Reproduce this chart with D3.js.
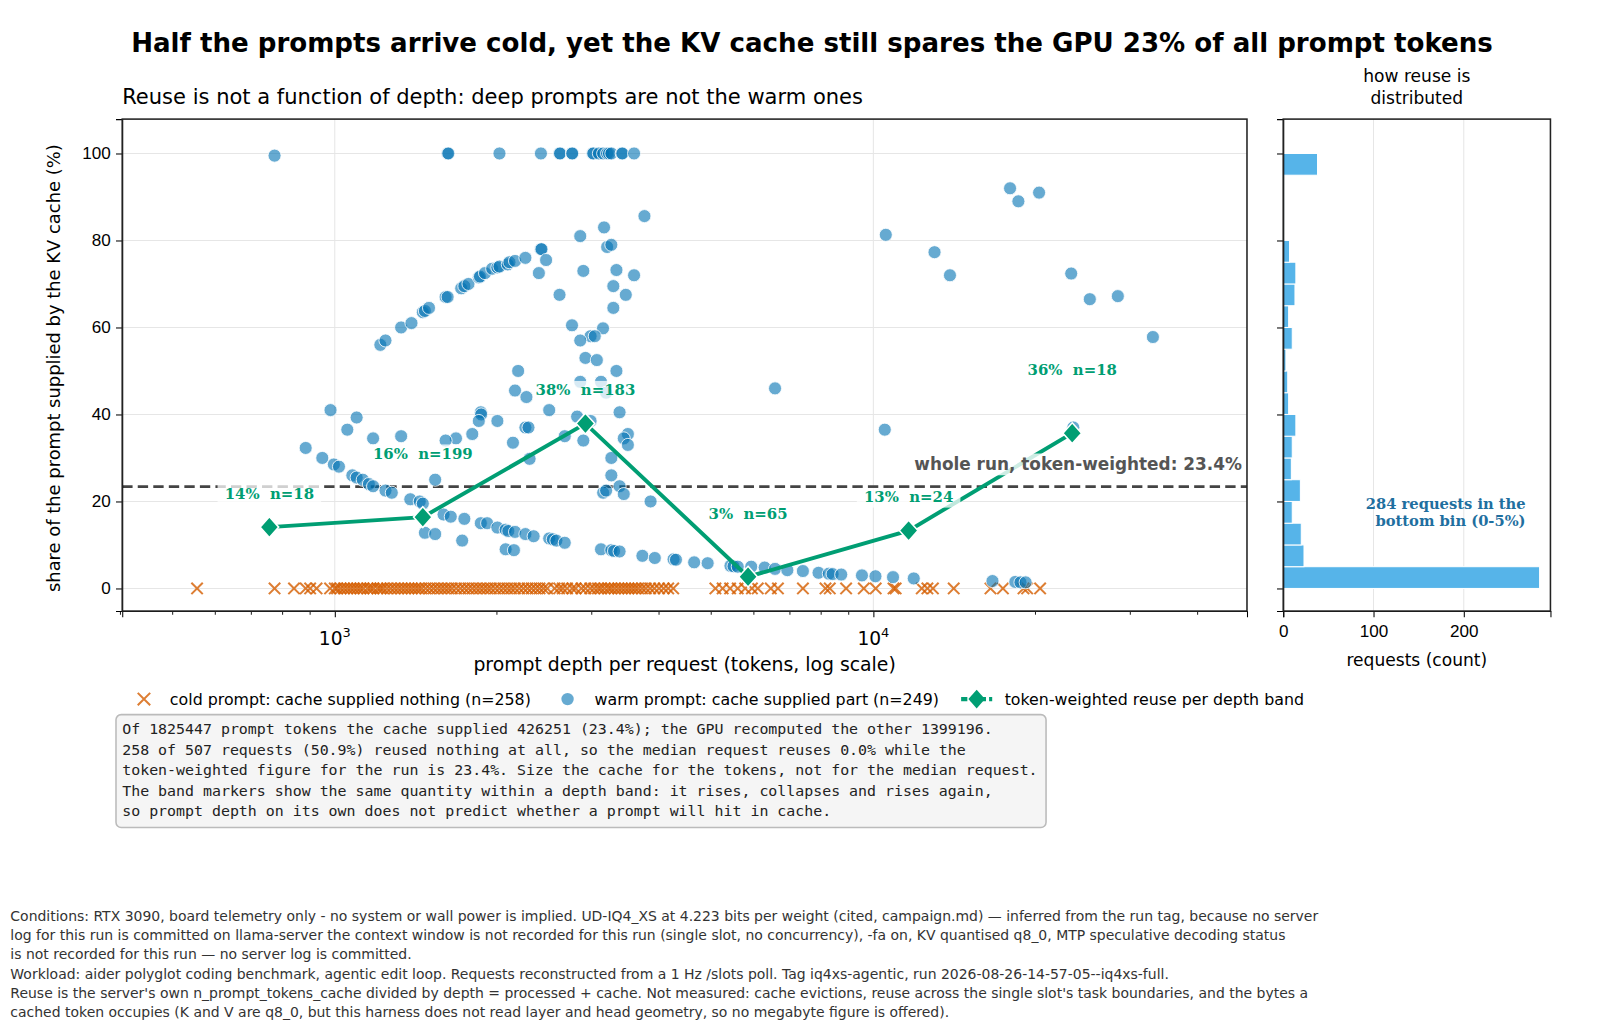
<!DOCTYPE html>
<html><head><meta charset="utf-8">
<script src="https://cdn.jsdelivr.net/npm/d3@7"></script>
<style>body{margin:0;background:#fff;font-family:"DejaVu Sans",sans-serif} text{white-space:pre}</style>
</head><body><svg id="c" width="1624" height="1036"></svg>
<script>
// warm requests: [prompt tokens, % supplied by cache]
const warmPoints = [
[773,99.5],[1620,100],[1625,100],[2022,100],[2414,100],[2614,100],[2620,100],[2757,100],[2760,100],[3012,100],[3020,100],[3093,100],[3150,100],[3204,100],[3230,100],[3262,100],[3409,100],[3420,100],[3595,100],
[1215,56],[1242,57],[1328,60],[1388,61],[1457,63.5],[1470,63.8],[1496,64.5],[1606,67],[1620,67],[1717,69],[1740,69.5],[1771,70],[1851,71.5],[1860,71.7],[1901,72.5],[1960,73.5],[2004,73.8],[2022,74],[2095,74.5],[2110,75],[2161,75.3],[2259,76],[2414,78],[2420,78],[2468,75.5],[2393,72.5],[2614,67.5],
[2856,81],[3162,83],[3204,78.5],[3262,79],[3758,85.6],[2894,73],[3334,73.2],[3595,72],[3290,69.5],[3470,67.5],[3290,64.5],[2757,60.5],[3148,59.8],[2985,58],[3039,58],[2856,57],[2920,53],[3066,52.5],[3334,50],[2190,50],[3121,47.5],[2856,47.5],[2161,45.5],[2269,44],[2501,41],[3190,45],[3379,40.5],[2818,39.5],[2985,38.5],[2673,35],[2894,34],[3501,35.5],[3440,34.5],[3501,33],[3262,30],[3262,26],[3379,23.5],[3440,21.7],[3150,22],[3190,22.5],[3858,20],
[1679,34.5],[2004,38.5],[1867,40.5],[1870,40],[1851,38.5],[2142,33.5],[2259,37],[2289,37],[2300,29.8],[1800,35.5],[1536,25],
[883,32.3],[948,30],[996,28.5],[1018,28],[1078,26],[1098,25.5],[1127,25],[1157,24],[1178,23.5],[1242,22.5],[1276,22],[1381,20.5],[1438,20],[1457,19.5],[1592,17],[1642,16.5],[1740,16],[1867,15],[1918,15],[2004,14],[2076,13.5],[2100,13.2],[2161,13],[2259,12.5],[2340,12],[2501,11.5],[2540,11.3],[2579,11],[2673,10.5],[1470,12.8],[1536,12.5],[1724,11],[2076,9],[2151,8.8],
[982,41],[1055,36.5],[1098,39.3],[1178,34.5],[1328,35],[1606,34],
[3121,9],[3262,8.8],[3300,8.6],[3379,8.5],[3725,7.5],[3928,7],[4256,6.7],[4300,6.6],[4648,6],[4924,5.8],[5428,5.2],[5500,5.1],[5600,5],[5932,5],[6283,4.8],[6568,4.5],[6923,4.2],[7399,4],[7910,3.6],[8266,3.4],[8400,3.3],[8717,3.2],[9524,3],[10090,2.8],[10877,2.6],[11885,2.3],[16640,1.7],[18345,1.5],[18755,1.4],[19175,1.4],
[10546,81.3],[12989,77.3],[13875,72],[17940,92],[18590,89],[20310,91],[23300,72.4],[25230,66.5],[28440,67.2],[33040,57.8],[6568,46],[10500,36.5],[23510,37]
];
// cold requests: prompt tokens (cache supplied 0%)
const coldDepths = [555,773,840,883,900,925,
980,1000,1010,1025,1040,1055,1070,1085,1100,1115,1130,1150,1165,1180,1200,1215,1230,1250,1270,1290,1310,1330,1350,1370,1390,1410,1430,1450,1475,1500,1525,1550,1575,1600,1625,1650,1680,1710,1740,1770,1800,1830,1860,1890,1920,1950,1985,2020,2055,2090,2125,2160,2200,2240,2280,2320,2360,2400,2440,2480,
2560,2610,2650,2700,2760,2800,2870,2920,2980,3030,3080,3120,3170,3220,3260,3310,3360,3410,3460,3510,3560,3610,3660,3720,3780,3850,3920,4000,4080,4160,4250,
5090,5250,5420,5600,5780,5950,6100,6450,6650,7400,8150,8300,8900,9600,10100,10900,11000,12300,12600,12900,14100,16500,17400,19000,19300,20400];
// token-weighted reuse per depth band
const bandDepth = [756,1457,2920,5853,11627,23400];
const bandReuse = [14.1,16.4,37.9,2.7,13.3,35.7];
const bandLabels = ["14%  n=18","16%  n=199","38%  n=183","3%  n=65","13%  n=24","36%  n=18"];
const wholeRun = 23.4;
// histogram of reuse, 5% bins from 0 to 100
const histBinStart = [0,5,10,15,20,25,30,35,40,45,50,55,60,65,70,75,80,85,90,95];
const histCounts = [284,23,20,10,19,9,10,14,6,5,3,10,6,13,14,7,1,1,1,38];
const xTicks = [1000,10000];
const yTicks = [0,20,40,60,80,100];
const histTicks = [0,100,200];

const svg = d3.select("#c").append("g").attr("transform","scale(1.0357)");
const L=118,R=1204,T=115,B=590;
const x = d3.scaleLog().domain([403,49400]).range([L,R]);
const y = d3.scaleLinear().domain([-5.2,107.9]).range([B,T]);
const HL=1239,HR=1497;
const hx = d3.scaleLinear().domain([0,296]).range([HL,HR]);
const green="#009e73";

svg.append("text").attr("x",784).attr("y",50).attr("text-anchor","middle").attr("font-size",25.2).attr("font-weight","bold").text("Half the prompts arrive cold, yet the KV cache still spares the GPU 23% of all prompt tokens");
svg.append("text").attr("x",118).attr("y",100).attr("font-size",20.3).text("Reuse is not a function of depth: deep prompts are not the warm ones");

const g = svg.append("g");
g.selectAll(".gy").data(yTicks).join("line").attr("x1",L).attr("x2",R).attr("y1",d=>y(d)).attr("y2",d=>y(d)).attr("stroke","#e6e6e6");
g.selectAll(".gx").data(xTicks).join("line").attr("y1",T).attr("y2",B).attr("x1",d=>x(d)).attr("x2",d=>x(d)).attr("stroke","#e6e6e6");

svg.append("line").attr("x1",L).attr("x2",R).attr("y1",y(wholeRun)).attr("y2",y(wholeRun)).attr("stroke","#444").attr("stroke-width",2.5).attr("stroke-dasharray","10,5");

const xs=5.5;
svg.append("g").selectAll("path").data(coldDepths).join("path")
 .attr("d",d=>{const cx=x(d),cy=y(0);return `M${cx-xs},${cy-xs}L${cx+xs},${cy+xs}M${cx-xs},${cy+xs}L${cx+xs},${cy-xs}`})
 .attr("stroke","#d55e00").attr("stroke-opacity",0.8).attr("stroke-width",2).attr("fill","none");
svg.append("g").selectAll("circle").data(warmPoints).join("circle")
 .attr("cx",d=>x(d[0])).attr("cy",d=>y(d[1])).attr("r",6.3)
 .attr("fill","#0072b2").attr("fill-opacity",0.6).attr("stroke","#fff").attr("stroke-width",0.8);

const band = bandDepth.map((d,i)=>[d,bandReuse[i],bandLabels[i]]);
svg.append("path").datum(band).attr("d",d3.line().x(d=>x(d[0])).y(d=>y(d[1]))).attr("fill","none").attr("stroke",green).attr("stroke-width",3.8);
svg.append("g").selectAll("path").data(band).join("path")
 .attr("transform",d=>`translate(${x(d[0])},${y(d[1])})`).attr("d","M0,-10L9,0L0,10L-9,0Z")
 .attr("fill",green).attr("stroke","#fff").attr("stroke-width",1.5);
const lg = svg.append("g").selectAll("g").data(band).join("g")
 .attr("transform",(d,i)=>`translate(${x(d[0])},${y(d[1]+(i%2?14.8:7.9))+6})`);
lg.append("rect").attr("x",-50).attr("y",-14).attr("width",100).attr("height",19).attr("fill","#fff").attr("fill-opacity",0.75);
lg.append("text").attr("text-anchor","middle").attr("font-family","DejaVu Serif").attr("font-weight","bold").attr("font-size",14.4).attr("fill",green).text(d=>d[2]);

const wl = svg.append("g").attr("transform",`translate(1199,${y(wholeRun)-16})`);
wl.append("rect").attr("x",-324).attr("y",-16).attr("width",326).attr("height",21).attr("fill","#fff").attr("fill-opacity",0.8);
wl.append("text").attr("text-anchor","end").attr("font-size",16.3).attr("font-weight","bold").attr("fill","#555").text("whole run, token-weighted: 23.4%");

svg.append("g").attr("transform",`translate(0,${B})`).call(d3.axisBottom(x).tickValues(xTicks).tickFormat(()=>"").tickSize(6));
const minor=[400,500,600,700,800,900,2000,3000,4000,5000,6000,7000,8000,9000,20000,30000,40000];
svg.append("g").selectAll("line").data(minor).join("line").attr("x1",d=>x(d)).attr("x2",d=>x(d)).attr("y1",B).attr("y2",B+3.5).attr("stroke","#222");
const xl = svg.append("g").selectAll("text").data(xTicks).join("text").attr("x",d=>x(d)).attr("y",B+33).attr("text-anchor","middle").attr("font-size",18);
xl.append("tspan").text("10");
xl.append("tspan").attr("dy",-8).attr("font-size",12.5).text(d=>Math.log10(d));
svg.append("g").attr("transform",`translate(${L},0)`).call(d3.axisLeft(y).tickValues(yTicks).tickSize(6)).selectAll("text").attr("font-size",16.5).attr("dx",-2);
svg.append("rect").attr("x",L).attr("y",T).attr("width",R-L).attr("height",B-T).attr("fill","none").attr("stroke","#222").attr("stroke-width",1.5);
svg.append("text").attr("x",661).attr("y",648).attr("text-anchor","middle").attr("font-size",18.2).text("prompt depth per request (tokens, log scale)");
svg.append("text").attr("transform",`translate(58,${(T+B)/2+3}) rotate(-90)`).attr("text-anchor","middle").attr("font-size",17.3).text("share of the prompt supplied by the KV cache (%)");

svg.append("g").selectAll("line").data(histTicks).join("line").attr("x1",d=>hx(d)).attr("x2",d=>hx(d)).attr("y1",T).attr("y2",B).attr("stroke","#e6e6e6");
svg.append("g").selectAll("rect").data(histBinStart.map((b,i)=>[b,histCounts[i]])).join("rect")
 .attr("x",hx(0)).attr("y",d=>y(d[0]+5)).attr("width",d=>hx(d[1])-hx(0)).attr("height",d=>y(d[0])-y(d[0]+5))
 .attr("fill","#56b4e9").attr("stroke","#fff").attr("stroke-width",1);
svg.append("g").attr("transform",`translate(0,${B})`).call(d3.axisBottom(hx).tickValues(histTicks).tickSize(6)).selectAll("text").attr("font-size",16.5).attr("dy","1em");
svg.append("g").attr("transform",`translate(${HL},0)`).call(d3.axisLeft(y).tickValues(yTicks).tickSize(6).tickFormat(""));
svg.append("rect").attr("x",HL).attr("y",T).attr("width",HR-HL).attr("height",B-T).attr("fill","none").attr("stroke","#222").attr("stroke-width",1.5);
svg.append("text").attr("x",1368).attr("y",643).attr("text-anchor","middle").attr("font-size",16.5).text("requests (count)");
svg.append("text").attr("x",1368).attr("y",79).attr("text-anchor","middle").attr("font-size",16.5).text("how reuse is");
svg.append("text").attr("x",1368).attr("y",100).attr("text-anchor","middle").attr("font-size",16.5).text("distributed");
svg.append("text").attr("x",1473).attr("y",491).attr("text-anchor","end").attr("font-family","DejaVu Serif").attr("font-weight","bold").attr("font-size",14.2).attr("fill","#1f6f9f").text("284 requests in the");
svg.append("text").attr("x",1473).attr("y",508).attr("text-anchor","end").attr("font-family","DejaVu Serif").attr("font-weight","bold").attr("font-size",14.2).attr("fill","#1f6f9f").text("bottom bin (0-5%)");

const leg = svg.append("g").attr("transform","translate(0,675)");
leg.append("path").attr("d","M133,-6L145,6M133,6L145,-6").attr("stroke","#d55e00").attr("stroke-opacity",0.8).attr("stroke-width",2);
leg.append("text").attr("x",164).attr("y",6).attr("font-size",15.3).text("cold prompt: cache supplied nothing (n=258)");
leg.append("circle").attr("cx",548).attr("cy",0).attr("r",6).attr("fill","#0072b2").attr("fill-opacity",0.6);
leg.append("text").attr("x",574).attr("y",6).attr("font-size",15.3).text("warm prompt: cache supplied part (n=249)");
leg.append("line").attr("x1",928).attr("x2",958).attr("stroke",green).attr("stroke-width",4).attr("stroke-dasharray","6,3");
leg.append("path").attr("d","M943,-9L951,0L943,9L935,0Z").attr("fill",green);
leg.append("text").attr("x",970).attr("y",6).attr("font-size",15.3).text("token-weighted reuse per depth band");

const note=["Of 1825447 prompt tokens the cache supplied 426251 (23.4%); the GPU recomputed the other 1399196.",
"258 of 507 requests (50.9%) reused nothing at all, so the median request reuses 0.0% while the",
"token-weighted figure for the run is 23.4%. Size the cache for the tokens, not for the median request.",
"The band markers show the same quantity within a depth band: it rises, collapses and rises again,",
"so prompt depth on its own does not predict whether a prompt will hit in cache."];
svg.append("rect").attr("x",112).attr("y",690).attr("width",898).attr("height",109).attr("rx",5).attr("fill","#f5f5f5").attr("stroke","#bbb").attr("stroke-width",1.5);
svg.append("g").selectAll("text").data(note).join("text").attr("x",118).attr("y",(d,i)=>709+i*19.8).attr("font-family","DejaVu Sans Mono").attr("font-size",14.4).attr("fill","#222").text(d=>d);

const foot=["Conditions: RTX 3090, board telemetry only - no system or wall power is implied. UD-IQ4_XS at 4.223 bits per weight (cited, campaign.md) — inferred from the run tag, because no server",
"log for this run is committed on llama-server the context window is not recorded for this run (single slot, no concurrency), -fa on, KV quantised q8_0, MTP speculative decoding status",
"is not recorded for this run — no server log is committed.",
"Workload: aider polyglot coding benchmark, agentic edit loop. Requests reconstructed from a 1 Hz /slots poll. Tag iq4xs-agentic, run 2026-08-26-14-57-05--iq4xs-full.",
"Reuse is the server's own n_prompt_tokens_cache divided by depth = processed + cache. Not measured: cache evictions, reuse across the single slot's task boundaries, and the bytes a",
"cached token occupies (K and V are q8_0, but this harness does not read layer and head geometry, so no megabyte figure is offered)."];
svg.append("g").selectAll("text").data(foot).join("text").attr("x",10).attr("y",(d,i)=>889+i*18.6).attr("font-size",13.5).attr("fill","#333").text(d=>d);
</script></body></html>
